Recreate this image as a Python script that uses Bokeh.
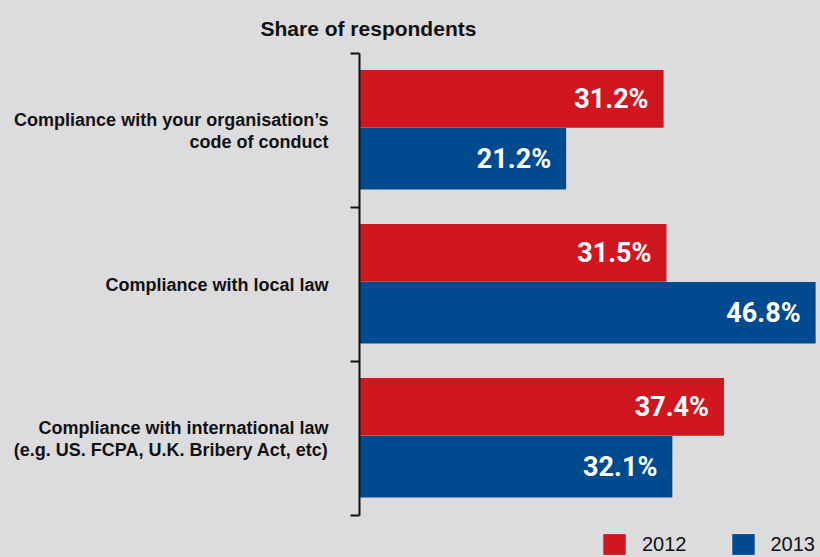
from bokeh.plotting import figure
from bokeh.models import (Range1d, LinearAxis, FixedTicker,
                          CustomJSTickFormatter, Legend, LegendItem, ColumnDataSource)
from bokeh.transform import dodge
from bokeh.core.properties import value
from bokeh.embed import file_html
from bokeh.resources import INLINE

categories = [
    "Compliance with your organisation\u2019s\ncode of conduct",
    "Compliance with local law",
    "Compliance with international law\n(e.g. US. FCPA, U.K. Bribery Act, etc)",
]
years = ["2012", "2013"]
values_2012 = [31.2, 31.5, 37.4]
values_2013 = [21.2, 46.8, 32.1]

RED = "#d0161f"
BLUE = "#004a8f"
BG = "#dcdcde"
SANS = "Liberation Sans"
VALFONT = "Roboto"

n = len(categories)
# category slots, first category at the top
centers = [n - i - 0.5 for i in range(n)]
bounds = list(range(n + 1))

src = ColumnDataSource(dict(
    yc=centers,
    v2012=values_2012,
    v2013=values_2013,
    l2012=[f"{v:.1f}%" for v in values_2012],
    l2013=[f"{v:.1f}%" for v in values_2013],
))

p = figure(width=820, height=557, output_backend="svg", toolbar_location=None,
           y_range=Range1d(-0.2727, n), x_range=Range1d(0, 47.3),
           x_axis_location=None, y_axis_location=None,
           min_border_left=359, min_border_right=0, min_border_top=53, min_border_bottom=0,
           background_fill_color=BG, border_fill_color=BG, outline_line_color=None)
p.styles = {"background-color": BG}
p.xgrid.visible = False
p.ygrid.visible = False

# tick axis with ticks at category boundaries
tick_axis = LinearAxis(ticker=FixedTicker(ticks=bounds, minor_ticks=[]), bounds=(0, n),
                       formatter=CustomJSTickFormatter(code="return ''"),
                       axis_line_color="#111111", axis_line_width=2,
                       major_tick_line_color="#111111", major_tick_line_width=2,
                       major_tick_out=9, major_tick_in=0, minor_tick_out=0, minor_tick_in=0,
                       major_label_standoff=0)
p.add_layout(tick_axis, "left")

# category label axis
cat_axis = LinearAxis(ticker=FixedTicker(ticks=centers, minor_ticks=[]),
                      major_label_overrides={c: lab for c, lab in zip(centers, categories)},
                      axis_line_color=None, major_tick_line_color=None,
                      major_tick_out=0, major_tick_in=0, minor_tick_out=0, minor_tick_in=0,
                      major_label_standoff=22,
                      major_label_text_font=SANS, major_label_text_font_style="bold",
                      major_label_text_font_size="18px", major_label_text_color="#111111",
                      major_label_text_line_height=1.1)
p.add_layout(cat_axis, "left")

r1 = p.hbar(y=dodge("yc", 0.205), right="v2012", left=0, height=0.375,
            source=src, color=RED, line_color=None)
r2 = p.hbar(y=dodge("yc", -0.183), right="v2013", left=0, height=0.40,
            source=src, color=BLUE, line_color=None)

p.text(x="v2012", y=dodge("yc", 0.205), text="l2012", source=src,
       x_offset=-15, text_align="right", text_baseline="middle", text_color="white",
       text_font=value(VALFONT), text_font_style="bold", text_font_size="27px")
p.text(x="v2013", y=dodge("yc", -0.183), text="l2013", source=src,
       x_offset=-15, text_align="right", text_baseline="middle", text_color="white",
       text_font=value(VALFONT), text_font_style="bold", text_font_size="27px")

p.title.text = "Share of respondents"
p.title.align = "left"
p.title.offset = -99
p.title.text_font = SANS
p.title.text_font_style = "bold"
p.title.text_font_size = "21px"
p.title.text_color = "#111111"
p.title.standoff = 27

legend = Legend(items=[LegendItem(label=years[0], renderers=[r1]),
                       LegendItem(label=years[1], renderers=[r2])],
                orientation="horizontal", location=(241, 0),
                glyph_width=28, glyph_height=26, label_standoff=14, spacing=42,
                padding=0, margin=0, background_fill_alpha=0, border_line_alpha=0,
                label_text_font=SANS, label_text_font_size="20px", label_text_color="#111111")
p.add_layout(legend, "center")

open("out.html", "w").write(file_html(p, INLINE))
